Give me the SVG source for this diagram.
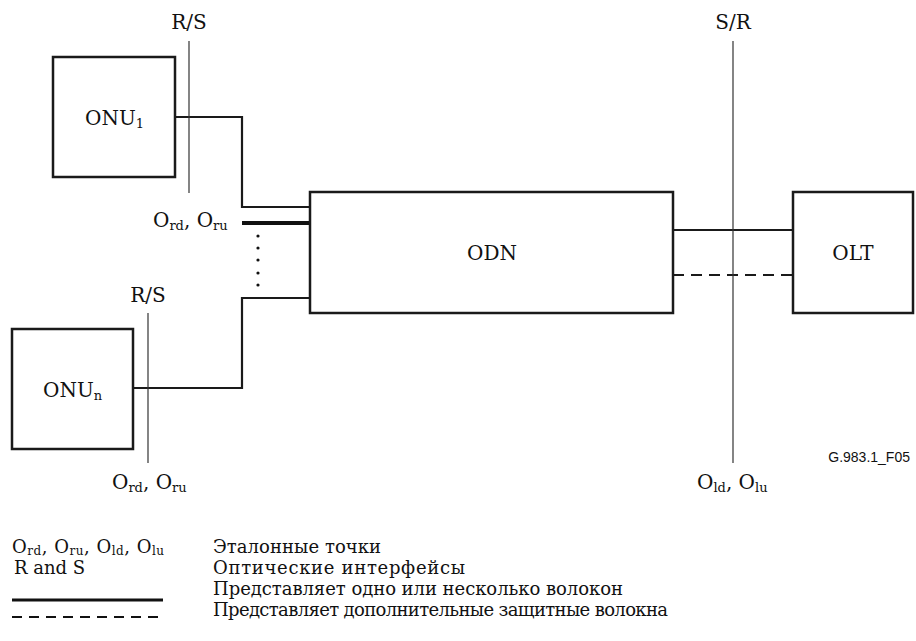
<svg xmlns="http://www.w3.org/2000/svg" width="916" height="641" viewBox="0 0 916 641">
<style>
.box{fill:#fff;stroke:#1a1a1a;stroke-width:2.5}
.ln{fill:none;stroke:#1a1a1a;stroke-width:2.2}
.thick{fill:none;stroke:#111;stroke-width:4}
.dash{fill:none;stroke:#1a1a1a;stroke-width:2.2;stroke-dasharray:11 7}
.ref{stroke:#333;stroke-width:1.2}
text{fill:#111;font-family:"DejaVu Serif","Liberation Serif",serif}
.t{font-size:20px}
.lg{font-size:18px}
.sub{font-size:13px}
.lsub{font-size:12px}
</style>
<g id="connectors">
  <path class="ln" d="M175 117 H242 V207 H310"/>
  <path class="ln" d="M133 388 H242 V298 H310"/>
  <path class="thick" d="M242 223 H310"/>
  <g fill="#111">
    <circle cx="258" cy="236" r="1.6"/>
    <circle cx="258" cy="248" r="1.6"/>
    <circle cx="258" cy="260" r="1.6"/>
    <circle cx="258" cy="273" r="1.6"/>
    <circle cx="258" cy="285" r="1.6"/>
  </g>
  <path class="ln" d="M673 230 H793"/>
  <path class="dash" d="M673 275 H793"/>
</g>
<g id="refpoints">
  <line class="ref" x1="189" y1="41" x2="189" y2="193"/>
  <line class="ref" x1="148" y1="313" x2="148" y2="463"/>
  <line class="ref" x1="733" y1="41" x2="733" y2="463"/>
  <text class="t" x="189" y="29" text-anchor="middle">R/S</text>
  <text class="t" x="148" y="302" text-anchor="middle">R/S</text>
  <text class="t" x="733" y="29" text-anchor="middle">S/R</text>
  <text class="t" x="153" y="227">O<tspan class="sub" dy="3">rd</tspan><tspan dy="-3">, O</tspan><tspan class="sub" dy="3">ru</tspan></text>
  <text class="t" x="112" y="489">O<tspan class="sub" dy="3">rd</tspan><tspan dy="-3">, O</tspan><tspan class="sub" dy="3">ru</tspan></text>
  <text class="t" x="697" y="489">O<tspan class="sub" dy="3">ld</tspan><tspan dy="-3">, O</tspan><tspan class="sub" dy="3">lu</tspan></text>
</g>
<g id="onu1">
  <rect class="box" x="53" y="57" width="122" height="120"/>
  <text class="t" x="85" y="125">ONU<tspan class="sub" dy="3">1</tspan></text>
</g>
<g id="onun">
  <rect class="box" x="12" y="329" width="121" height="120"/>
  <text class="t" x="43" y="397">ONU<tspan class="sub" dy="3">n</tspan></text>
</g>
<g id="odn">
  <rect class="box" x="310" y="192" width="363" height="121"/>
  <text class="t" x="492" y="260" text-anchor="middle">ODN</text>
</g>
<g id="olt">
  <rect class="box" x="793" y="192" width="120" height="121"/>
  <text class="t" x="853" y="260" text-anchor="middle">OLT</text>
</g>
<text style="font-family:'Liberation Sans',Arial,sans-serif" font-size="14" x="910" y="462" text-anchor="end">G.983.1_F05</text>
<g id="legend">
  <text class="lg" x="12" y="553" textLength="152">O<tspan class="lsub" dy="2">rd</tspan><tspan dy="-2">, O</tspan><tspan class="lsub" dy="2">ru</tspan><tspan dy="-2">, O</tspan><tspan class="lsub" dy="2">ld</tspan><tspan dy="-2">, O</tspan><tspan class="lsub" dy="2">lu</tspan></text>
  <text class="lg" x="14" y="574">R and S</text>
  <line x1="12" y1="600" x2="163" y2="600" stroke="#111" stroke-width="3"/>
  <line x1="12" y1="617" x2="163" y2="617" stroke="#111" stroke-width="2" stroke-dasharray="10 7"/>
  <text class="lg" x="213" y="553" textLength="168">Эталонные точки</text>
  <text class="lg" x="213" y="574" textLength="252">Оптические интерфейсы</text>
  <text class="lg" x="213" y="595" textLength="410">Представляет одно или несколько волокон</text>
  <text class="lg" x="213" y="616" textLength="455">Представляет дополнительные защитные волокна</text>
</g>
</svg>
